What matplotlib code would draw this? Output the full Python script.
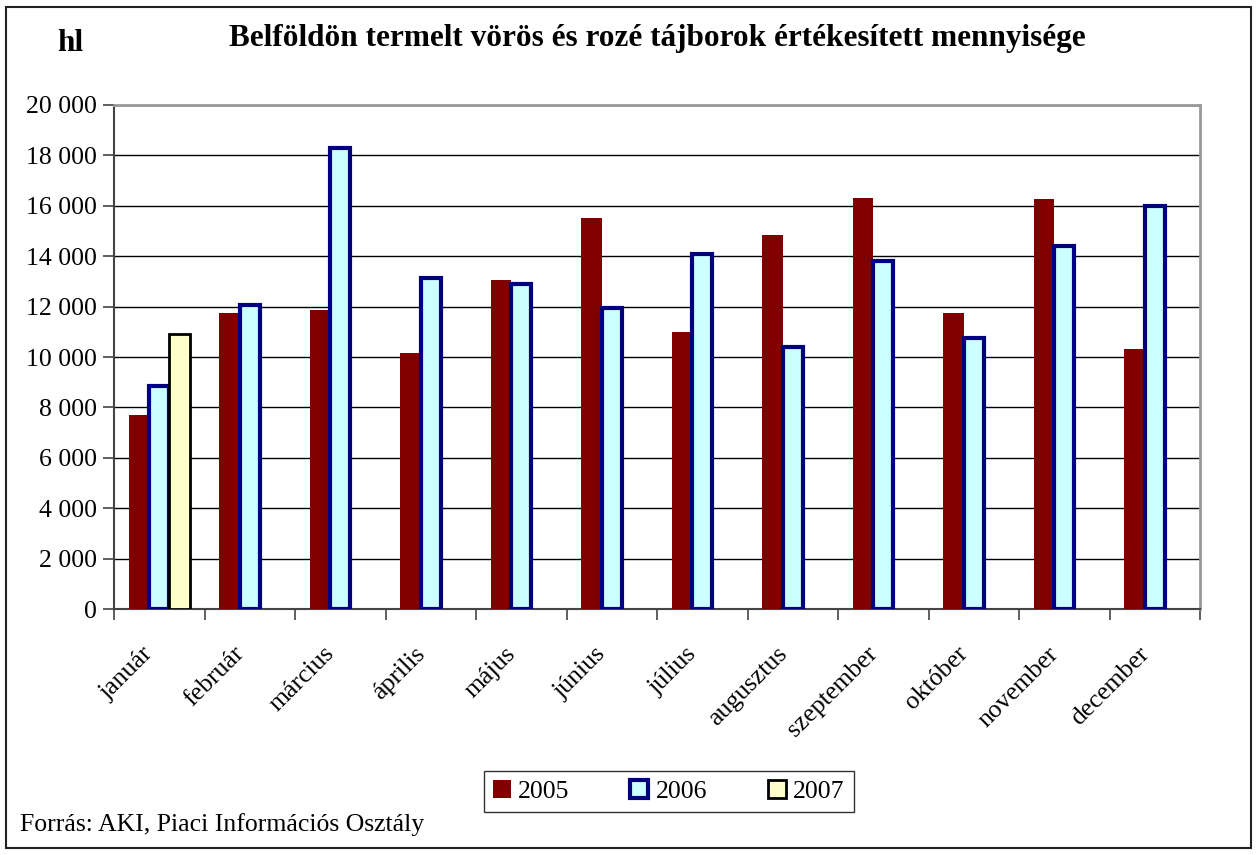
import numpy as np
import matplotlib.pyplot as plt
import matplotlib.transforms as mtransforms
from matplotlib.patches import Rectangle

months = ['január', 'február', 'március', 'április', 'május', 'június',
          'július', 'augusztus', 'szeptember', 'október', 'november', 'december']
v2005 = [7700, 11750, 11850, 10150, 13050, 15500, 11000, 14850, 16300, 11750, 16250, 10300]
v2006 = [8850, 12050, 18300, 13150, 12900, 11950, 14100, 10400, 13800, 10750, 14400, 16000]
v2007 = [10900] + [np.nan] * 11
years = ['2005', '2006', '2007']

plt.rcParams['font.family'] = ['Liberation Serif', 'DejaVu Serif']

fig = plt.figure(figsize=(12.57, 8.55), dpi=100)
fig.patches.append(Rectangle((0.005, 0.008), 0.99, 0.984, transform=fig.transFigure,
                             fill=False, edgecolor='#222222', linewidth=1.5))
ax = fig.add_axes([0.0907, 0.2877, 0.864, 0.5895])

x = np.arange(len(months))
w = 0.225
ax.bar(x - w, v2005, w, color='#800000', label=years[0], zorder=3)
ax.bar(x, v2006, w, color='#CCFFFF', edgecolor='#000080', linewidth=3, label=years[1], zorder=3)
ax.bar(x + w, v2007, w, color='#FFFFCC', edgecolor='#000000', linewidth=2, label=years[2], zorder=3)

ax.set_xlim(-0.5, 11.5)
ax.set_ylim(0, 20000)
ax.set_yticks(np.arange(0, 20001, 2000))
ax.set_yticklabels([f'{v:,}'.replace(',', ' ') for v in range(0, 20001, 2000)], fontsize=18.5)
ax.yaxis.grid(True, color='black', linewidth=1)
ax.set_axisbelow(True)

ax.set_xticks(x)
ax.set_xticklabels(months, rotation=45, ha='right', rotation_mode='anchor', fontsize=18.5)
ax.tick_params(axis='x', which='major', length=0, pad=12)
# shift month labels down-left like the original
off = mtransforms.ScaledTranslation(-0.17, -0.17, fig.dpi_scale_trans)
for lbl in ax.get_xticklabels():
    lbl.set_transform(lbl.get_transform() + off)
ax.set_xticks(np.arange(-0.5, 12, 1), minor=True)
ax.tick_params(axis='x', which='minor', length=8, width=1.2, color='#444444')
ax.tick_params(axis='y', length=8, width=1.2, color='#444444', pad=4)

for side in ['top', 'right']:
    ax.spines[side].set_color('#999999')
    ax.spines[side].set_linewidth(2)
ax.spines['left'].set_color('#444444')
ax.spines['bottom'].set_color('#444444')
ax.spines['left'].set_linewidth(1.5)
ax.spines['bottom'].set_linewidth(1.5)

fig.text(0.523, 0.955, 'Belföldön termelt vörös és rozé tájborok értékesített mennyisége',
         ha='center', va='center', fontsize=22.5, fontweight='bold')
fig.text(0.056, 0.949, 'hl', ha='center', va='center', fontsize=22.5, fontweight='bold')
fig.text(0.016, 0.036, 'Forrás: AKI, Piaci Információs Osztály', ha='left', va='center', fontsize=18.5)

leg = fig.legend(loc='center', bbox_to_anchor=(0.532, 0.074), ncol=3, fontsize=18.5,
                 frameon=True, fancybox=False, edgecolor='black', handlelength=0.7,
                 handleheight=0.7, columnspacing=2.35, handletextpad=0.3, borderpad=0.35,
                 borderaxespad=0)
leg.get_frame().set_linewidth(1)

fig.savefig('out.png', dpi=100)
